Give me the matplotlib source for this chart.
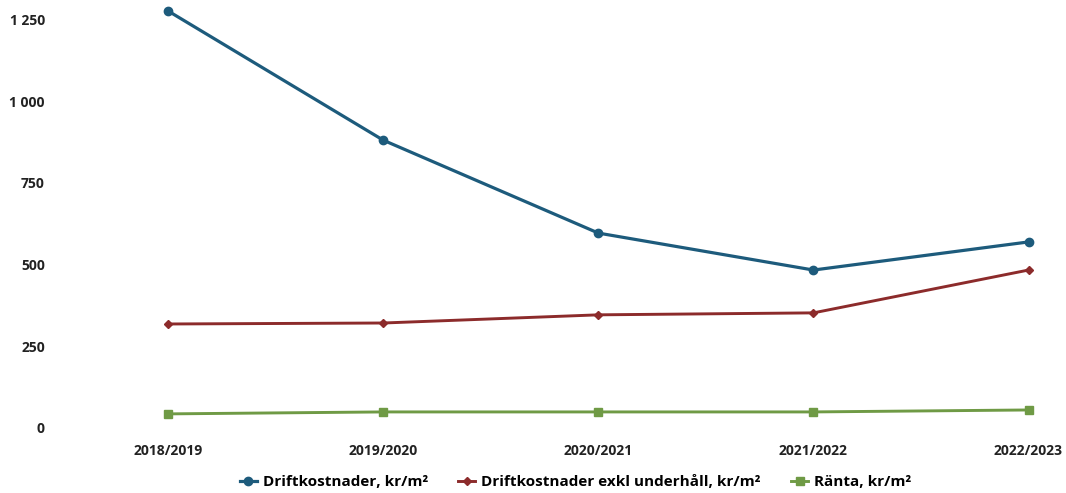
import matplotlib
matplotlib.use("Agg")
import matplotlib.pyplot as plt
from matplotlib.ticker import FuncFormatter

years = ["2018/2019", "2019/2020", "2020/2021", "2021/2022", "2022/2023"]
drift = [1275, 880, 596, 483, 569]
drift_exkl = [318, 321, 346, 352, 483]
ranta = [43, 49, 49, 49, 55]

plt.rcParams["font.family"] = ["Open Sans", "DejaVu Sans"]
plt.rcParams["font.weight"] = "bold"

fig = plt.figure(figsize=(10.66, 4.93), dpi=100)
ax = fig.add_axes([0.05, 0.1187, 0.935, 0.8753])

x = range(len(years))
ax.plot(x, drift, color="#1d5b7c", lw=2.3, marker="o", ms=6,
        label="Driftkostnader, kr/m²")
ax.plot(x, drift_exkl, color="#8c2b2b", lw=2.1, marker="D", ms=4.5,
        label="Driftkostnader exkl underhåll, kr/m²")
ax.plot(x, ranta, color="#6f9a45", lw=2.1, marker="s", ms=5.5,
        label="Ränta, kr/m²")

ax.set_xlim(-0.535, 4.1)
ax.set_ylim(-20, 1300)
ax.set_yticks([0, 250, 500, 750, 1000, 1250])
ax.yaxis.set_major_formatter(FuncFormatter(lambda v, p: f"{int(v):,}".replace(",", " ")))
ax.set_xticks(list(x))
ax.set_xticklabels(years)
for s in ax.spines.values():
    s.set_visible(False)
ax.tick_params(length=0, labelsize=10, colors="#222222")
ax.tick_params(axis="x", pad=7)
ax.tick_params(axis="y", pad=6)

fig.legend(loc="lower center", bbox_to_anchor=(0.54, -0.02), ncol=3, frameon=False,
           fontsize=11, handlelength=1.1, handletextpad=0.4, columnspacing=2.0)

fig.savefig("out.png", dpi=100)
